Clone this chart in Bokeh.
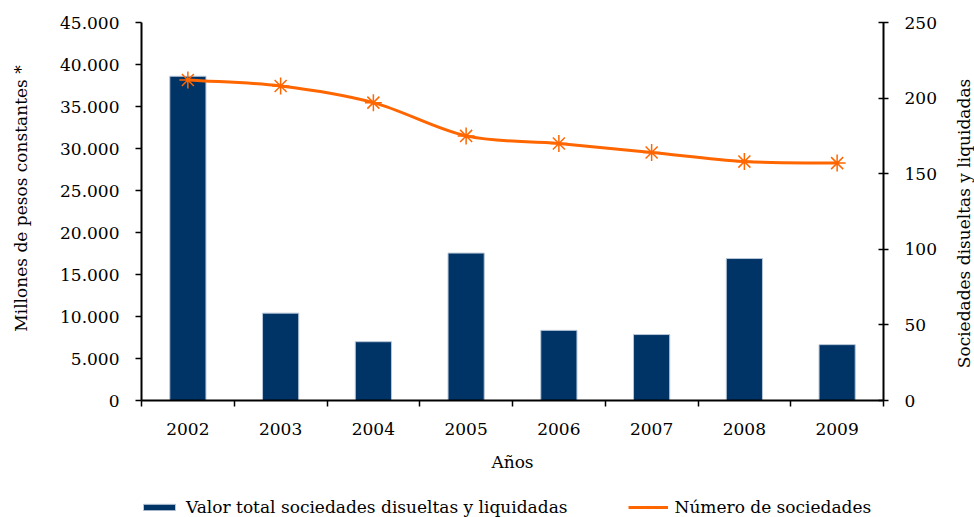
import math
from bokeh.plotting import figure
from bokeh.models import Range1d, LinearAxis, FixedTicker, Legend, LegendItem, ColumnDataSource
from bokeh.core.properties import value
from bokeh.embed import file_html
from bokeh.resources import INLINE

# ---- data ----
years = ["2002", "2003", "2004", "2005", "2006", "2007", "2008", "2009"]
valor_total = [38600, 10400, 7000, 17550, 8350, 7850, 16900, 6650]
num_sociedades = [212, 208, 197, 175, 170, 164, 158, 157]
left_ticks = [0, 5000, 10000, 15000, 20000, 25000, 30000, 35000, 40000, 45000]
left_labels = ["0", "5.000", "10.000", "15.000", "20.000", "25.000", "30.000", "35.000", "40.000", "45.000"]
right_ticks = [0, 50, 100, 150, 200, 250]
left_title = "Millones de pesos constantes *"
right_title = "Sociedades disueltas y liquidadas"
x_title = "Años"

FONT = "DejaVu Serif"
BAR = "#003366"
ORANGE = "#FF6600"

# ---- layout (pixels) ----
W, H = 974, 517
PL, PR, PT, PB = 141, 883, 22, 400      # plotting area corners
n = len(years)
L_MAX, R_MAX = left_ticks[-1], right_ticks[-1]
xs = n / (PR - PL)                       # data units per px (x)
ls = L_MAX / (PB - PT)                   # data units per px (left y)
rs = R_MAX / (PB - PT)                   # data units per px (right y)

def px_x(px):
    return (px - PL) * xs

def px_y(py):
    return (PB - py) * ls

xc = [i + 0.5 for i in range(n)]

p = figure(width=W, height=H, output_backend="svg", toolbar_location=None,
           x_range=Range1d(px_x(0), px_x(W)),
           y_range=Range1d(px_y(H), px_y(0)),
           min_border_left=0, min_border_right=0, min_border_top=0, min_border_bottom=0)
p.outline_line_color = None
p.grid.visible = False
p.background_fill_color = "white"
p.border_fill_color = "white"
p.extra_y_ranges = {"n": Range1d(-(H - PB) * rs, PB * rs)}

# x axis, fixed at value 0
xa = p.xaxis[0]
xa.fixed_location = 0
xa.bounds = (0, n)
xa.ticker = FixedTicker(ticks=xc, minor_ticks=list(range(n + 1)))
xa.major_label_overrides = {x: y for x, y in zip(xc, years)}
xa.major_tick_in = 0
xa.major_tick_out = 0
xa.minor_tick_in = 0
xa.minor_tick_out = 6
xa.minor_tick_line_color = "black"
xa.minor_tick_line_width = 1.5
xa.axis_line_width = 2
xa.axis_label = x_title
xa.major_label_standoff = 16
xa.axis_label_standoff = 14

# left axis, fixed at x = 0
ya = p.yaxis[0]
ya.fixed_location = 0
ya.bounds = (0, L_MAX)
ya.ticker = FixedTicker(ticks=left_ticks, minor_ticks=[])
ya.major_label_overrides = {t: l for t, l in zip(left_ticks, left_labels)}
ya.major_tick_in = 0
ya.major_tick_out = 6
ya.major_tick_line_width = 1.5
ya.axis_line_width = 2
ya.major_label_standoff = 16

# right axis, fixed at x = n
ra = LinearAxis(y_range_name="n", ticker=FixedTicker(ticks=right_ticks, minor_ticks=[]),
                bounds=(0, R_MAX), fixed_location=n)
ra.major_tick_in = 5
ra.major_tick_out = 5
ra.major_tick_line_width = 1.5
ra.axis_line_width = 2
ra.major_label_standoff = 16
p.add_layout(ra, "right")

for ax in [xa, ya, ra]:
    ax.major_label_text_font = FONT
    ax.major_label_text_font_size = "17px"
    ax.major_label_text_color = "black"
    ax.axis_label_text_font = FONT
    ax.axis_label_text_font_size = "17px"
    ax.axis_label_text_font_style = "normal"
    ax.axis_label_text_color = "black"
    ax.axis_line_color = "black"
    ax.major_tick_line_color = "black"

# vertical axis titles (reading bottom to top)
p.text(x=[px_x(20), px_x(963)], y=[px_y(198), px_y(223)], text=[left_title, right_title],
       angle=math.pi / 2, text_align="center", text_baseline="middle",
       text_font=value(FONT), text_font_size="17px", text_color="black")

# bars
bars = p.vbar(x=xc, top=valor_total, bottom=0, width=0.39, fill_color=BAR, line_color="#b8c7d9", line_width=1)

# smoothed line (cubic Bezier segments through the data points)
pts = list(zip(xc, num_sociedades))
tang = []
for i in range(n):
    if i == 0:
        tx, ty = pts[1][0] - pts[0][0], pts[1][1] - pts[0][1]
    elif i == n - 1:
        tx, ty = pts[-1][0] - pts[-2][0], pts[-1][1] - pts[-2][1]
    else:
        tx, ty = (pts[i + 1][0] - pts[i - 1][0]) / 2, (pts[i + 1][1] - pts[i - 1][1]) / 2
    tang.append((tx, ty))
bz = dict(x0=[], y0=[], x1=[], y1=[], cx0=[], cy0=[], cx1=[], cy1=[])
for i in range(n - 1):
    bz["x0"].append(pts[i][0]); bz["y0"].append(pts[i][1])
    bz["x1"].append(pts[i + 1][0]); bz["y1"].append(pts[i + 1][1])
    bz["cx0"].append(pts[i][0] + tang[i][0] / 3); bz["cy0"].append(pts[i][1] + tang[i][1] / 3)
    bz["cx1"].append(pts[i + 1][0] - tang[i + 1][0] / 3); bz["cy1"].append(pts[i + 1][1] - tang[i + 1][1] / 3)
p.bezier(x0="x0", y0="y0", x1="x1", y1="y1", cx0="cx0", cy0="cy0", cx1="cx1", cy1="cy1",
         source=ColumnDataSource(bz), line_color=ORANGE, line_width=3, y_range_name="n")
marks = p.scatter(x=xc, y=num_sociedades, marker="asterisk", size=17, line_color=ORANGE,
                  line_width=1.5, y_range_name="n")
# legend-only line sample (no visible data)
leg_line = p.line(x=[float("nan")], y=[float("nan")], line_color=ORANGE, line_width=3, y_range_name="n")

legend = Legend(items=[LegendItem(label="Valor total sociedades disueltas y liquidadas", renderers=[bars]),
                       LegendItem(label="Número de sociedades", renderers=[leg_line, marks])],
                orientation="horizontal", location=(139, 0), padding=0, margin=0,
                spacing=60, glyph_width=40, glyph_height=8, label_standoff=7,
                label_text_font=FONT, label_text_font_size="17px", label_text_color="black",
                border_line_color=None, background_fill_alpha=0)
p.add_layout(legend, "center")

open("out.html", "w").write(file_html(p, INLINE))
